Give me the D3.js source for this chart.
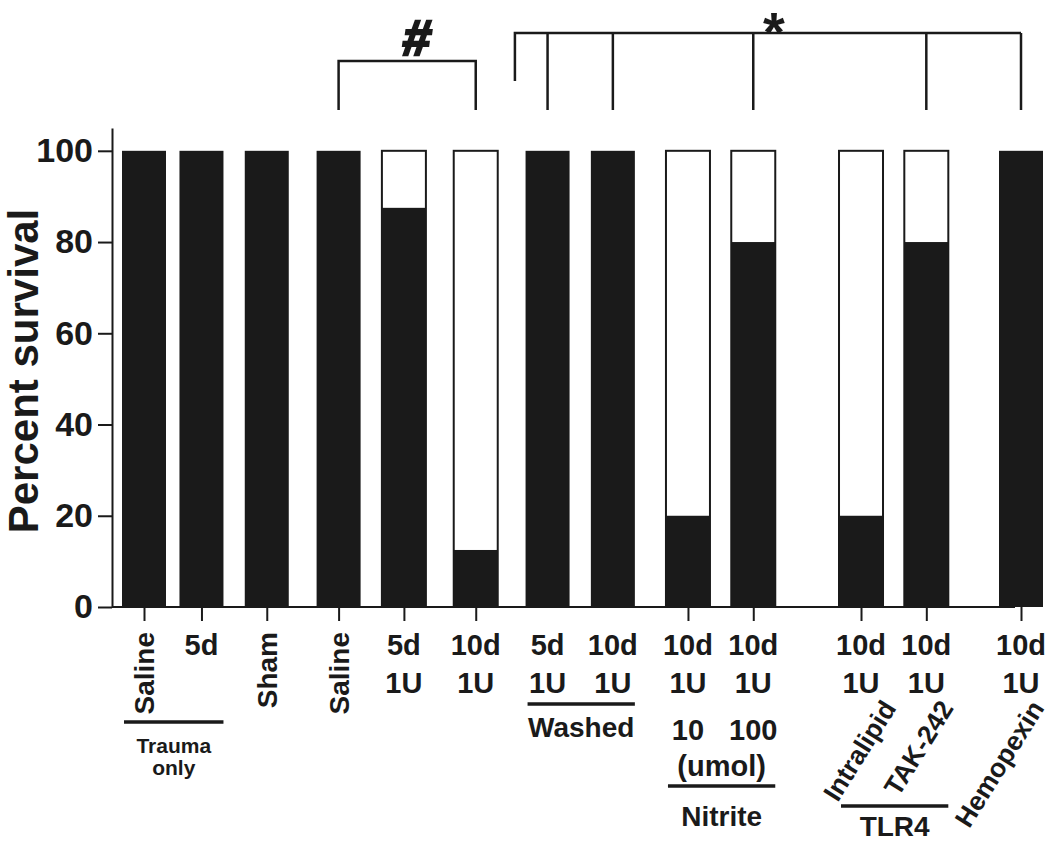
<!DOCTYPE html>
<html>
<head>
<meta charset="utf-8">
<script src="https://cdn.jsdelivr.net/npm/d3@7"></script>
<style>
  body { margin: 0; background: #fff; }
  text { font-family: "Liberation Sans", Arial, sans-serif; font-weight: bold; fill: #1a1a1a; }
</style>
</head>
<body>
<div class="chart"></div>
<script>
// values
const survival = [100, 100, 100, 100, 87.5, 12.5, 100, 100, 20, 80, 20, 80, 100];
const dose     = ["", "5d", "", "", "5d", "10d", "5d", "10d", "10d", "10d", "10d", "10d", "10d"];
const units    = ["", "", "", "", "1U", "1U", "1U", "1U", "1U", "1U", "1U", "1U", "1U"];
const nitrite  = ["", "", "", "", "", "", "", "", "10", "100", "", "", ""];
const upright  = ["Saline", "", "Sham", "Saline", "", "", "", "", "", "", "", "", ""];
const slanted  = ["", "", "", "", "", "", "", "", "", "", "Intralipid", "TAK-242", "Hemopexin"];
const noTick   = [6, 7];
const yTicks   = [0, 20, 40, 60, 80, 100];

const groupNames   = [["Trauma", "only"], ["Washed"], ["Nitrite"], ["TLR4"]];
const groupMembers = [[0, 1], [6, 7], [8, 9], [10, 11]];
const nitriteUnit  = "(umol)";

const hashLegs = [3, 5];
const starLegs = [6, 7, 9, 11, 12];

// layout
const width = 1050, height = 841;
const ink = "#1a1a1a";
const extraGap = [0, -0.12, 0, 0.1, 0, 0.1, 0.1, 0, 0.15, 0, 0.65, 0, 0.45];
const slot = Array.from(d3.cumsum(extraGap), (g, i) => i + g);
const slantShift = {10: 36, 11: 28, 12: 24};
const barW = 44;
const axisLeftX = 112, axisEndX = 1015;

const svg = d3.select(".chart")
  .append("svg")
  .attr("width", width)
  .attr("height", height);

const x = d3.scaleLinear()
  .domain([0, slot[slot.length - 1]])
  .range([144, 1021]);

const y = d3.scaleLinear()
  .domain([0, 105])
  .range([607, 128]);

const cx = i => x(slot[i]);

// bars
const bars = svg.append("g")
  .selectAll("g")
  .data(survival.map((v, i) => ({v, i})))
  .join("g");

bars.filter(d => d.v < 100)
  .append("rect")
  .attr("x", d => cx(d.i) - barW / 2)
  .attr("y", y(100))
  .attr("width", barW)
  .attr("height", y(0) - y(100))
  .attr("fill", "#fff")
  .attr("stroke", ink)
  .attr("stroke-width", 2);

bars.append("rect")
  .attr("x", d => cx(d.i) - barW / 2)
  .attr("y", d => y(d.v))
  .attr("width", barW)
  .attr("height", d => y(0) - y(d.v))
  .attr("fill", ink);

// y axis
const yAxis = d3.axisLeft(y)
  .tickValues(yTicks)
  .tickSize(14)
  .tickSizeOuter(0)
  .tickPadding(5);

svg.append("g")
  .attr("transform", `translate(${axisLeftX},0)`)
  .call(yAxis)
  .attr("font-size", 34)
  .call(g => g.selectAll("path, line").attr("stroke", ink).attr("stroke-width", 2));

svg.append("text")
  .attr("transform", "translate(38,371) rotate(-90)")
  .attr("text-anchor", "middle")
  .attr("font-size", 42)
  .text("Percent survival");

// x axis
const tickIdx = d3.range(survival.length).filter(i => !noTick.includes(i));
const xTicks = d3.scaleOrdinal().domain(tickIdx).range(tickIdx.map(cx));

svg.append("g")
  .attr("transform", `translate(0,${y(0)})`)
  .call(d3.axisBottom(xTicks).tickValues(tickIdx).tickSize(14).tickFormat(""))
  .call(g => g.select(".domain").remove())
  .call(g => g.selectAll("line").attr("stroke", ink).attr("stroke-width", 2))
  .call(g => g.append("line")
    .attr("x1", axisLeftX).attr("x2", axisEndX)
    .attr("stroke", ink).attr("stroke-width", 2));

function row(labels, yPos, size) {
  svg.append("g")
    .selectAll("text")
    .data(labels.map((t, i) => ({t, i})).filter(d => d.t))
    .join("text")
    .attr("x", d => cx(d.i))
    .attr("y", yPos)
    .attr("text-anchor", "middle")
    .attr("font-size", size)
    .text(d => d.t);
}
row(dose, 655, 29);
row(units, 693, 29);
row(nitrite, 740, 29);

svg.append("g")
  .selectAll("text")
  .data(upright.map((t, i) => ({t, i})).filter(d => d.t))
  .join("text")
  .attr("transform", d => `translate(${cx(d.i) + 10},632) rotate(-90)`)
  .attr("text-anchor", "end")
  .attr("font-size", 28)
  .text(d => d.t);

svg.append("g")
  .selectAll("text")
  .data(slanted.map((t, i) => ({t, i})).filter(d => d.t))
  .join("text")
  .attr("transform", d => `translate(${cx(d.i) + slantShift[d.i]},708) rotate(-58)`)
  .attr("text-anchor", "end")
  .attr("font-size", 26.5)
  .text(d => d.t);

// group underlines
const groupLineY = [722, 704, 786, 806];
const groupTextY = [[753, 775], [737], [826], [836]];
const groupFont = [21, 28, 28, 28];

groupNames.forEach((lines, k) => {
  const [a, b] = groupMembers[k];
  const x0 = cx(a) - 20, x1 = cx(b) + 22;
  const g = svg.append("g");
  g.append("line")
    .attr("x1", x0).attr("x2", x1)
    .attr("y1", groupLineY[k]).attr("y2", groupLineY[k])
    .attr("stroke", ink).attr("stroke-width", 3.5);
  g.selectAll("text")
    .data(lines)
    .join("text")
    .attr("x", (x0 + x1) / 2)
    .attr("y", (d, j) => groupTextY[k][j])
    .attr("text-anchor", "middle")
    .attr("font-size", groupFont[k])
    .text(d => d);
  if (lines[0] === "Nitrite") {
    g.append("text")
      .attr("x", (x0 + x1) / 2)
      .attr("y", 776)
      .attr("text-anchor", "middle")
      .attr("font-size", 29)
      .text(nitriteUnit);
  }
});

// significance brackets
const legBottom = 110;
const hashTop = 61, starTop = 33;

const hx = hashLegs.map(cx);
svg.append("path")
  .attr("d", `M${hx[0]},${legBottom}V${hashTop}H${hx[1]}V${legBottom}`)
  .attr("fill", "none").attr("stroke", ink).attr("stroke-width", 2.5);
svg.append("text")
  .attr("x", (hx[0] + hx[1]) / 2 + 10)
  .attr("y", 55)
  .attr("text-anchor", "middle")
  .attr("font-size", 50)
  .attr("stroke", ink)
  .attr("stroke-width", 2.5)
  .attr("transform", `skewX(-8) translate(${0.14 * 40},0)`)
  .text("#");

const shortLeg = x(slot[5] + 0.6);
const sx = starLegs.map(cx);
const star = svg.append("g")
  .attr("fill", "none").attr("stroke", ink).attr("stroke-width", 2.5);
star.append("path")
  .attr("d", `M${shortLeg},81V${starTop}H${sx[sx.length - 1]}`);
star.selectAll("line")
  .data(sx)
  .join("line")
  .attr("x1", d => d).attr("x2", d => d)
  .attr("y1", starTop).attr("y2", legBottom);
svg.append("text")
  .attr("x", (shortLeg + sx[sx.length - 1]) / 2 + 6)
  .attr("y", 51)
  .attr("text-anchor", "middle")
  .attr("font-size", 56)
  .text("*");
</script>
</body>
</html>
